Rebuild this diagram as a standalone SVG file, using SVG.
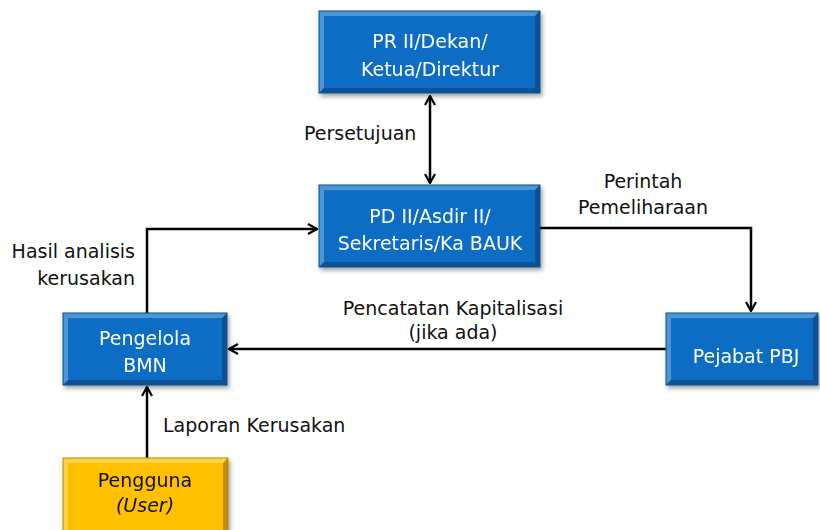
<svg xmlns="http://www.w3.org/2000/svg" width="820" height="530" viewBox="0 0 820 530">
<defs>
<style>
text{font-family:"DejaVu Sans","Liberation Sans",sans-serif;font-size:19px;}
.w{fill:#ffffff;text-anchor:middle;}
.k{fill:#111111;}
.c{text-anchor:middle;}
.r{text-anchor:end;}
.blue{fill:#0a6cc4;}
.gold{fill:#ffc000;}
.hl{fill:#ffffff;opacity:0.28;}
.dk{fill:#000000;opacity:0.25;}
.edge{fill:none;stroke:#0a4f8f;stroke-width:1;}
.gedge{fill:none;stroke:#b88a00;stroke-width:1;}
.ln{fill:none;stroke:#000;stroke-width:2.5;}
</style>
<filter id="sh" x="-10%" y="-10%" width="125%" height="130%">
<feGaussianBlur in="SourceAlpha" stdDeviation="2"/>
<feOffset dx="2" dy="3" result="b"/>
<feComponentTransfer><feFuncA type="linear" slope="0.35"/></feComponentTransfer>
<feMerge><feMergeNode/><feMergeNode in="SourceGraphic"/></feMerge>
</filter>
<marker id="ah" viewBox="0 0 12 12" refX="11" refY="6" markerWidth="12" markerHeight="12" markerUnits="userSpaceOnUse" orient="auto-start-reverse">
<path d="M2,1 L11,6 L2,11" fill="none" stroke="#000" stroke-width="2.2"/>
</marker>
</defs>

<g id="connectors">
<line class="ln" x1="430" y1="96" x2="430" y2="183" marker-start="url(#ah)" marker-end="url(#ah)"/>
<polyline class="ln" points="147,313 147,229 317,229" marker-end="url(#ah)"/>
<polyline class="ln" points="540,228 751,228 751,311" marker-end="url(#ah)"/>
<line class="ln" x1="666" y1="349" x2="229" y2="349" marker-end="url(#ah)"/>
<line class="ln" x1="147" y1="458" x2="147" y2="387" marker-end="url(#ah)"/>
</g>

<g id="lbl-persetujuan"><text class="k" x="304" y="140">Persetujuan</text></g>
<g id="lbl-hasil"><text class="k r" x="135" y="258">Hasil analisis</text><text class="k r" x="135" y="285">kerusakan</text></g>
<g id="lbl-perintah"><text class="k c" x="643" y="188">Perintah</text><text class="k c" x="643" y="214">Pemeliharaan</text></g>
<g id="lbl-pencatatan"><text class="k c" x="453" y="315">Pencatatan Kapitalisasi</text><text class="k c" x="453" y="339">(jika ada)</text></g>
<g id="lbl-laporan"><text class="k" x="163" y="432">Laporan Kerusakan</text></g>

<g id="node-pr2" filter="url(#sh)">
<rect class="blue" x="319" y="11" width="221" height="82"/>
<polygon class="hl" points="319,11 540,11 535,16 324,16"/>
<polygon class="hl" points="319,11 324,16 324,88 319,93"/>
<polygon class="dk" points="540,11 540,93 535,88 535,16"/>
<polygon class="dk" points="319,93 540,93 535,88 324,88"/>
<rect class="edge" x="319" y="11" width="221" height="82"/>
<text class="w" x="430" y="48">PR II/Dekan/</text>
<text class="w" x="430" y="76">Ketua/Direktur</text>
</g>

<g id="node-pd2" filter="url(#sh)">
<rect class="blue" x="319" y="185" width="221" height="82"/>
<polygon class="hl" points="319,185 540,185 535,190 324,190"/>
<polygon class="hl" points="319,185 324,190 324,262 319,267"/>
<polygon class="dk" points="540,185 540,267 535,262 535,190"/>
<polygon class="dk" points="319,267 540,267 535,262 324,262"/>
<rect class="edge" x="319" y="185" width="221" height="82"/>
<text class="w" x="430" y="223">PD II/Asdir II/</text>
<text class="w" x="430" y="250">Sekretaris/Ka BAUK</text>
</g>

<g id="node-pengelola" filter="url(#sh)">
<rect class="blue" x="63" y="313" width="164" height="72"/>
<polygon class="hl" points="63,313 227,313 222,318 68,318"/>
<polygon class="hl" points="63,313 68,318 68,380 63,385"/>
<polygon class="dk" points="227,313 227,385 222,380 222,318"/>
<polygon class="dk" points="63,385 227,385 222,380 68,380"/>
<rect class="edge" x="63" y="313" width="164" height="72"/>
<text class="w" x="145" y="345">Pengelola</text>
<text class="w" x="145" y="372">BMN</text>
</g>

<g id="node-pejabat" filter="url(#sh)">
<rect class="blue" x="666" y="313" width="152" height="72"/>
<polygon class="hl" points="666,313 818,313 813,318 671,318"/>
<polygon class="hl" points="666,313 671,318 671,380 666,385"/>
<polygon class="dk" points="818,313 818,385 813,380 813,318"/>
<polygon class="dk" points="666,385 818,385 813,380 671,380"/>
<rect class="edge" x="666" y="313" width="152" height="72"/>
<text class="w" x="746" y="363">Pejabat PBJ</text>
</g>

<g id="node-pengguna" filter="url(#sh)">
<rect class="gold" x="63" y="458" width="165" height="75"/>
<polygon class="hl" points="63,458 228,458 223,463 68,463"/>
<polygon class="hl" points="63,458 68,463 68,533 63,533"/>
<polygon class="dk" points="228,458 228,533 223,533 223,463"/>
<rect class="gedge" x="63" y="458" width="165" height="75"/>
<text class="k c" x="145" y="487">Pengguna</text>
<text class="k c" x="145" y="512" font-style="italic">(User)</text>
</g>
</svg>
